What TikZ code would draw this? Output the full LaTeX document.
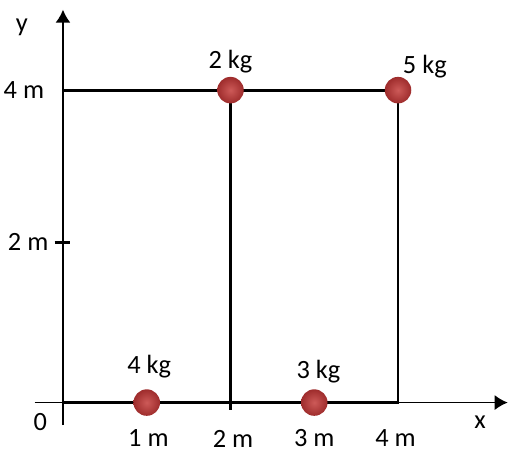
\documentclass[tikz,border=0pt]{standalone}
\usepackage{fontspec}
\setmainfont{Carlito}
\usetikzlibrary{arrows.meta}
\definecolor{ballin}{RGB}{205,90,88}
\definecolor{ballout}{RGB}{158,44,44}

\begin{document}
\begin{tikzpicture}[x=1.675cm,y=1.562cm,>={Latex[length=0.26cm,width=0.3cm]},
  every node/.style={font=\fontsize{15}{17}\selectfont,inner sep=1pt},
  mass/.style={circle,inner sep=0pt,minimum size=0.53cm,shade,inner color=ballin,outer color=ballout},
  frame/.style={line width=1.6pt},
  axis/.style={line width=0.9pt}]
  \useasboundingbox (-0.752,-0.621) rectangle (5.325,5.154);
  % corners of the frame
  \coordinate (O) at (0,0);
  \coordinate (A) at (4,0);
  \coordinate (B) at (4,4);
  \coordinate (C) at (0,4);
  \coordinate (T) at (2,4);
  \coordinate (Tb) at (2,-0.09);
  \coordinate (xl) at (-0.34,0);
  \coordinate (xr) at (5.31,0);
  \coordinate (yb) at (0,-0.29);
  \coordinate (yt) at (0,5.03);
  \draw[axis] (xl) -- (O);
  \draw[axis,->] (A) -- (xr);
  \draw[axis,->] (yb) -- (yt);
  \draw[frame] (O) -- (A) -- (B) -- (C) -- cycle;
  \draw[frame] (T) -- (Tb);
  \draw[frame] (-0.1,2.05) -- (0.08,2.05);
  % axis labels
  \node (ylab) at (-0.49,4.81) {y};
  \node (xlab) at (4.98,-0.25) {x};
  \node (zero) at (-0.27,-0.25) {0};
  \node[anchor=east] (y4) at (-0.2,4) {4 m};
  \node[anchor=east] (y2) at (-0.15,2.05) {2 m};
  \node (x1) at (1.02,-0.46) {1 m};
  \node (x2) at (2.03,-0.46) {2 m};
  \node (x3) at (3,-0.46) {3 m};
  \node (x4) at (3.97,-0.46) {4 m};
  % masses
  \node[mass] (m4) at (1,0) {};
  \node[mass] (m3) at (3,0) {};
  \node[mass] (m2) at (T) {};
  \node[mass] (m5) at (B) {};
  \node (l4) at (1.03,0.46) {4 kg};
  \node (l3) at (3.05,0.39) {3 kg};
  \node (l2) at (2,4.36) {2 kg};
  \node (l5) at (4.32,4.30) {5 kg};
\end{tikzpicture}
\end{document}
